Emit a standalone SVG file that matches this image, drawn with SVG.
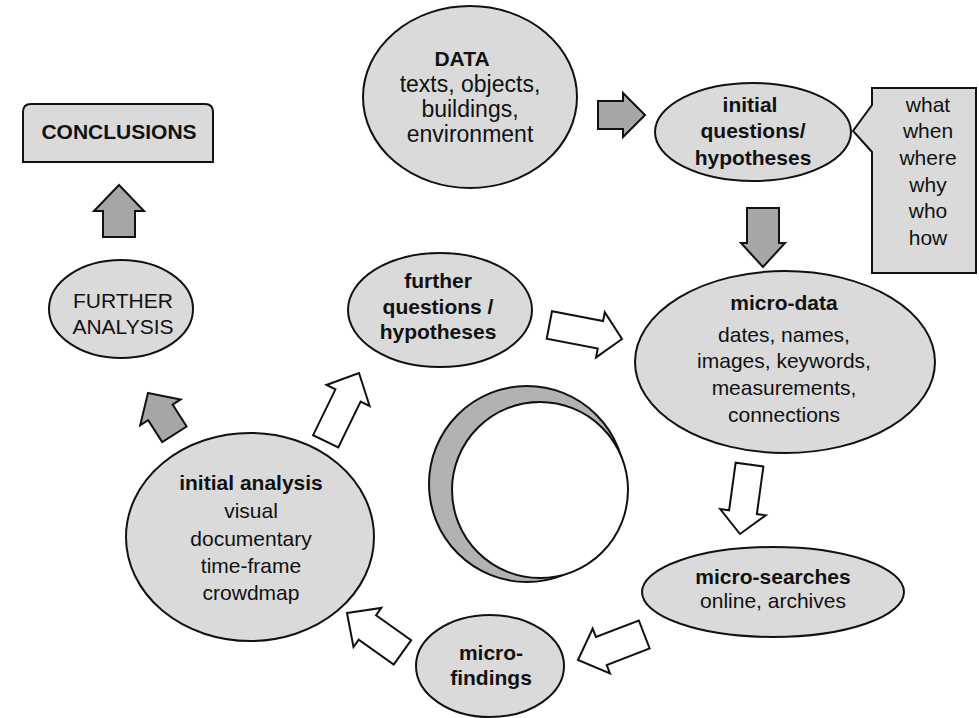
<svg xmlns="http://www.w3.org/2000/svg" width="979" height="718" viewBox="0 0 979 718">
<style>
  .node { fill: #dadada; stroke: #111; stroke-width: 2; }
  .t { font-family: "Liberation Sans", Arial, Helvetica, sans-serif; font-size: 21px; fill: #111; text-anchor: middle; }
  .b { font-weight: bold; }
  .big { font-size: 23px; }
  .garrow { fill: #a6a6a6; stroke: #111; stroke-width: 2; stroke-linejoin: miter; }
  .warrow { fill: #ffffff; stroke: #111; stroke-width: 2; stroke-linejoin: miter; }
</style>
<rect width="979" height="718" fill="#ffffff"/>

<g id="conclusions">
  <path class="node" d="M23,162 L23,112 Q23,104 31,104 L205,104 Q213,104 213,112 L213,162 Z"/>
  <text class="t b" x="119" y="139">CONCLUSIONS</text>
</g>

<g id="further-analysis">
  <ellipse class="node" cx="121" cy="309" rx="72" ry="49"/>
  <text class="t" x="123" y="308">FURTHER</text>
  <text class="t" x="123" y="334">ANALYSIS</text>
</g>

<g id="data">
  <ellipse class="node" cx="470" cy="97" rx="107" ry="91"/>
  <text class="t b" x="462" y="66">DATA</text>
  <text class="t big" x="470" y="92">texts, objects,</text>
  <text class="t big" x="470" y="117">buildings,</text>
  <text class="t big" x="470" y="142">environment</text>
</g>

<g id="initial-questions">
  <ellipse class="node" cx="753" cy="132" rx="98" ry="49"/>
  <text class="t b" x="750" y="112">initial</text>
  <text class="t b" x="753" y="138">questions/</text>
  <text class="t b" x="753" y="165">hypotheses</text>
</g>

<g id="question-words">
  <path class="node" d="M872,88 L976,88 L976,273 L872,273 L872,152 L853,131 L872,105 Z"/>
  <text class="t" x="928" y="112">what</text>
  <text class="t" x="928" y="138">when</text>
  <text class="t" x="928" y="165">where</text>
  <text class="t" x="928" y="192">why</text>
  <text class="t" x="928" y="218">who</text>
  <text class="t" x="928" y="245">how</text>
</g>

<g id="further-questions">
  <ellipse class="node" cx="440" cy="310" rx="92" ry="57"/>
  <text class="t b" x="438" y="288">further</text>
  <text class="t b" x="438" y="314">questions /</text>
  <text class="t b" x="438" y="339">hypotheses</text>
</g>

<g id="micro-data">
  <ellipse class="node" cx="785" cy="362" rx="150" ry="91"/>
  <text class="t b" x="784" y="310">micro-data</text>
  <text class="t" x="784" y="342">dates, names,</text>
  <text class="t" x="784" y="368">images, keywords,</text>
  <text class="t" x="784" y="395">measurements,</text>
  <text class="t" x="784" y="422">connections</text>
</g>

<g id="globe">
  <circle cx="527" cy="484" r="98" fill="#b2b2b2" stroke="#111" stroke-width="2"/>
  <circle cx="540" cy="490" r="88" fill="#ffffff" stroke="#111" stroke-width="2"/>
</g>

<g id="initial-analysis">
  <ellipse class="node" cx="250" cy="537" rx="124" ry="104"/>
  <text class="t b" x="251" y="490">initial analysis</text>
  <text class="t" x="251" y="518">visual</text>
  <text class="t" x="251" y="546">documentary</text>
  <text class="t" x="251" y="573">time-frame</text>
  <text class="t" x="251" y="600">crowdmap</text>
</g>

<g id="micro-searches">
  <ellipse class="node" cx="773" cy="592" rx="131" ry="45"/>
  <text class="t b" x="773" y="584">micro-searches</text>
  <text class="t" x="773" y="608">online, archives</text>
</g>

<g id="micro-findings">
  <ellipse class="node" cx="490" cy="666" rx="74" ry="51"/>
  <text class="t b" x="491" y="660">micro-</text>
  <text class="t b" x="491" y="685">findings</text>
</g>

<g id="connectors">
  <polygon class="garrow" transform="translate(119,185)" points="0,0 25,26 16,26 16,52 -16,52 -16,26 -25,26"/>
  <polygon class="garrow" transform="translate(645,115) rotate(90)" points="0,0 22,22 14,22 14,47 -14,47 -14,22 -22,22"/>
  <polygon class="garrow" transform="translate(763,267) rotate(180)" points="0,0 22,24 16,24 16,59 -16,59 -16,24 -22,24"/>
  <polygon class="garrow" transform="translate(148,393) rotate(-32.6)" points="0,0 24,23 14.5,23 14.5,49 -14.5,49 -14.5,23 -24,23"/>
  <polygon class="warrow" transform="translate(359,373) rotate(26)" points="0,0 24,25 14,25 14,76 -14,76 -14,25 -24,25"/>
  <polygon class="warrow" transform="translate(622,339) rotate(100.9)" points="0,0 23,22 14,22 14,74 -14,74 -14,22 -23,22"/>
  <polygon class="warrow" transform="translate(740,534) rotate(187.8)" points="0,0 23,22 14,22 14,70 -14,70 -14,22 -23,22"/>
  <polygon class="warrow" transform="translate(578,660) rotate(-111.1)" points="0,0 24,25 15,25 15,71 -15,71 -15,25 -24,25"/>
  <polygon class="warrow" transform="translate(347,613) rotate(-54.6)" points="0,0 24,25 15,25 15,68 -15,68 -15,25 -24,25"/>
</g>
</svg>
